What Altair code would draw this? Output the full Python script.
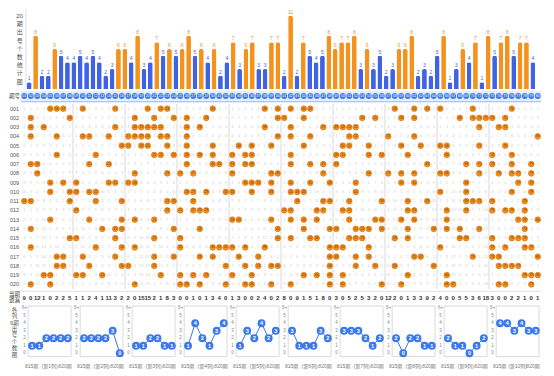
import altair as alt
import pandas as pd

# 20 periods (rows 001-020), 20 numbers drawn out of 01-80 in each
draws = [
    [5, 6, 7, 10, 15, 20, 22, 23, 30, 38, 40, 42, 44, 45, 58, 61, 63, 65, 70, 76],
    [2, 8, 18, 21, 24, 26, 29, 40, 41, 44, 53, 55, 59, 61, 68, 70, 71, 72, 73, 75],
    [2, 4, 15, 18, 19, 20, 21, 22, 26, 28, 38, 42, 47, 49, 50, 51, 52, 71, 74, 75],
    [2, 6, 10, 11, 14, 17, 18, 19, 20, 22, 23, 26, 40, 42, 45, 51, 52, 57, 61, 80],
    [16, 17, 19, 20, 23, 26, 30, 34, 36, 39, 44, 50, 51, 54, 59, 62, 65, 66, 71, 75],
    [6, 12, 21, 22, 24, 26, 28, 30, 33, 35, 36, 42, 49, 50, 54, 56, 60, 66, 73, 76],
    [2, 3, 11, 14, 26, 30, 31, 33, 35, 36, 42, 45, 47, 49, 63, 69, 71, 73, 76, 79],
    [3, 18, 23, 25, 27, 33, 39, 40, 47, 54, 57, 59, 61, 65, 66, 71, 74, 76, 77, 79],
    [5, 7, 9, 14, 15, 17, 18, 35, 36, 37, 39, 42, 45, 48, 52, 59, 61, 69, 77, 79],
    [5, 8, 9, 11, 12, 26, 27, 29, 32, 33, 36, 39, 42, 43, 44, 52, 65, 69, 76, 79],
    [1, 2, 8, 12, 16, 23, 24, 27, 43, 47, 48, 51, 56, 60, 63, 69, 70, 71, 73, 78],
    [9, 23, 25, 27, 28, 29, 41, 42, 46, 47, 50, 51, 60, 61, 66, 69, 73, 75, 76, 78],
    [5, 11, 16, 18, 21, 33, 34, 39, 42, 44, 46, 51, 55, 56, 59, 61, 66, 77, 78, 80],
    [2, 13, 15, 16, 24, 28, 40, 44, 48, 49, 52, 53, 54, 56, 60, 64, 66, 68, 71, 78],
    [8, 9, 15, 21, 25, 40, 42, 45, 46, 51, 52, 53, 58, 60, 68, 69, 73, 76, 77, 78],
    [2, 12, 16, 18, 25, 30, 31, 32, 33, 35, 38, 48, 49, 50, 54, 65, 73, 75, 78, 79],
    [6, 7, 10, 15, 21, 24, 28, 30, 34, 37, 48, 49, 52, 54, 61, 62, 70, 73, 74, 80],
    [6, 7, 11, 16, 17, 21, 32, 35, 37, 39, 40, 48, 52, 55, 58, 64, 74, 75, 76, 77],
    [4, 5, 9, 10, 13, 22, 25, 27, 29, 33, 36, 44, 46, 48, 50, 60, 66, 78, 79, 80],
    [2, 5, 18, 25, 26, 28, 32, 35, 36, 39, 42, 48, 50, 56, 59, 66, 67, 74, 75, 79],
]
row_labels = [f"{i:03d}" for i in range(1, 21)]
numbers = list(range(1, 81))
period_first = "815期"
period_last = "820期"
title_bars = "20\n期\n出\n号\n个\n数\n统\n计\n图"
title_mini = "各\n列\n6期\n出\n号\n个\n数\n图"
head_label = "期号"
omit_label = "当期\n遗漏"

ORANGE = "#f5921e"
BLUE = "#3f63e4"
DOT_BLUE = "#3a78ee"
FONT = "Liberation Sans, Noto Sans CJK SC"

W = 520
xs = alt.Scale(domain=[-0.5, 79.5], nice=False, zero=False)
LABX = -1.5

# ---- derived tables ----
counts = [sum(n in d for d in draws) for n in numbers]
bar_df = pd.DataFrame({
    "col": [n - 1 for n in numbers],
    "cnt": counts,
    "kind": ["hot" if c >= 6 else "cold" for c in counts],
})

cells = []
for n in numbers:
    miss = 0
    for r, d in enumerate(draws, start=1):
        if n in d:
            miss = 0
            cells.append({"col": n - 1, "row": r, "hit": 1, "txt": f"{n:02d}"})
        else:
            miss += 1
            cells.append({"col": n - 1, "row": r, "hit": 0, "txt": str(miss)})
cell_df = pd.DataFrame(cells)

cur_omit = []
for n in numbers:
    last = max([r for r, d in enumerate(draws, start=1) if n in d] or [0])
    cur_omit.append(20 - last)
omit_df = pd.DataFrame({"col": [n - 1 for n in numbers], "v": [str(v) for v in cur_omit]})

mini = []
for g in range(10):
    for i, d in enumerate(draws[14:20]):
        v = sum(1 for n in d if 8 * g < n <= 8 * g + 8)
        mini.append({"g": g, "i": i, "x": 8 * g + 1.2 + 1.1 * i, "v": min(v, 6), "t": str(v)})
mini_df = pd.DataFrame(mini)
box_df = pd.DataFrame({"x": [8 * g + 0.6 for g in range(10)], "x2": [8 * g + 7.2 for g in range(10)],
                       "y": [-0.45] * 10, "y2": [6.3] * 10})
ylab_df = pd.DataFrame([{"x": 8 * g + 0.05, "y": v, "t": ("6+" if v == 6 else str(v))}
                        for g in range(10) for v in range(7)])
plab_df = pd.DataFrame(
    [{"x": 8 * g + 0.1, "t": period_first, "a": "l"} for g in range(10)]
    + [{"x": 8 * g + 3.9, "t": f"(第{g + 1}列)", "a": "c"} for g in range(10)]
    + [{"x": 8 * g + 7.3, "t": period_last, "a": "r"} for g in range(10)]
)
sep_df = pd.DataFrame({"x": [8 * g - 0.5 for g in range(1, 10)]})

# ---- 1. bar chart ----
bys = alt.Scale(domain=[0, 12], nice=False)
bbase = alt.Chart(bar_df).encode(x=alt.X("col:Q", scale=xs, axis=None))
bars = bbase.mark_bar(width=4.8, cornerRadiusTopLeft=2, cornerRadiusTopRight=2).encode(
    y=alt.Y("cnt:Q", scale=bys, axis=None),
    color=alt.Color("kind:N", scale=alt.Scale(domain=["hot", "cold"], range=[ORANGE, BLUE]), legend=None),
)
blabels = bbase.mark_text(dy=-4, fontSize=5, font=FONT).encode(
    y=alt.Y("cnt:Q", scale=bys, axis=None),
    text="cnt:Q",
    color=alt.Color("kind:N", scale=alt.Scale(domain=["hot", "cold"], range=["#d9801c", "#7a8ad0"]), legend=None),
)
btitle = alt.Chart(pd.DataFrame({"x": [LABX], "y": [11.4], "t": [title_bars]})).mark_text(
    lineBreak="\n", fontSize=6, lineHeight=8.2, color="#555", baseline="top", font=FONT
).encode(x=alt.X("x:Q", scale=xs, axis=None), y=alt.Y("y:Q", scale=bys, axis=None), text="t:N")
bsep = alt.Chart(pd.DataFrame({"x": [-0.5]})).mark_rule(color="#ddd", strokeWidth=1).encode(
    x=alt.X("x:Q", scale=xs, axis=None))
chart_bars = alt.layer(bsep, bars, blabels, btitle).properties(width=W, height=80)

# ---- 2. header row ----
hys = alt.Scale(domain=[0, 1], nice=False)
head_df = pd.DataFrame({"col": [n - 1 for n in numbers], "y": [0.5] * 80, "t": [f"{n:02d}" for n in numbers]})
hbg = alt.Chart(pd.DataFrame({"x": [-0.5], "x2": [79.5], "y": [0.06], "y2": [0.94]})).mark_rect(
    color="#e6eefc").encode(x=alt.X("x:Q", scale=xs, axis=None), x2="x2", y=alt.Y("y:Q", scale=hys, axis=None), y2="y2")
hdots = alt.Chart(head_df).mark_circle(size=34, opacity=1, color=DOT_BLUE).encode(
    x=alt.X("col:Q", scale=xs, axis=None), y=alt.Y("y:Q", scale=hys, axis=None))
htext = alt.Chart(head_df).mark_text(fontSize=3.6, color="white", font=FONT).encode(
    x=alt.X("col:Q", scale=xs, axis=None), y=alt.Y("y:Q", scale=hys, axis=None), text="t:N")
hlab = alt.Chart(pd.DataFrame({"x": [LABX], "y": [0.5], "t": [head_label]})).mark_text(
    fontSize=5.5, color="#444", font=FONT).encode(
    x=alt.X("x:Q", scale=xs, axis=None), y=alt.Y("y:Q", scale=hys, axis=None), text="t:N")
hline = alt.Chart(pd.DataFrame({"y": [0.02]})).mark_rule(color="#9bb5ee").encode(
    y=alt.Y("y:Q", scale=hys, axis=None))
chart_head = alt.layer(hbg, hline, hdots, htext, hlab).properties(width=W, height=12)

# ---- 3. matrix ----
mys = alt.Scale(domain=[0.5, 20.5], reverse=True, nice=False, zero=False)
mx = alt.X("col:Q", scale=xs, axis=None)
my = alt.Y("row:Q", scale=mys, axis=None)
msep = alt.Chart(sep_df).mark_rule(color="#d8d8d8").encode(x=alt.X("x:Q", scale=xs, axis=None))
mgray = alt.Chart(cell_df).transform_filter("datum.hit == 0").mark_text(
    fontSize=4, color="#cfcfcf", font=FONT).encode(x=mx, y=my, text="txt:N")
mdots = alt.Chart(cell_df).transform_filter("datum.hit == 1").mark_circle(
    size=32, opacity=1, color=ORANGE, stroke="#d66f0a", strokeWidth=0.6).encode(x=mx, y=my)
mdtext = alt.Chart(cell_df).transform_filter("datum.hit == 1").mark_text(
    fontSize=3.3, color="#7a3500", font=FONT).encode(x=mx, y=my, text="txt:N")
rl_df = pd.DataFrame({"x": [LABX] * 20, "row": list(range(1, 21)), "t": row_labels})
mlab = alt.Chart(rl_df).mark_text(fontSize=5.5, color="#555", font=FONT).encode(
    x=alt.X("x:Q", scale=xs, axis=None), y=my, text="t:N")
chart_matrix = alt.layer(msep, mgray, mdots, mdtext, mlab).properties(width=W, height=185)

# ---- 4. current omission row ----
oys = alt.Scale(domain=[0, 1], nice=False)
otext = alt.Chart(omit_df.assign(y=0.5)).mark_text(fontSize=6, color="#333", fontWeight="bold", font=FONT).encode(
    x=alt.X("col:Q", scale=xs, axis=None), y=alt.Y("y:Q", scale=oys, axis=None), text="v:N")
olab = alt.Chart(pd.DataFrame({"x": [LABX], "y": [0.95], "t": [omit_label]})).mark_text(
    fontSize=5.5, lineBreak="\n", lineHeight=6.3, baseline="top", color="#444", font=FONT).encode(
    x=alt.X("x:Q", scale=xs, axis=None), y=alt.Y("y:Q", scale=oys, axis=None), text="t:N")
otop = alt.Chart(pd.DataFrame({"y": [0.98]})).mark_rule(color="#ddd").encode(y=alt.Y("y:Q", scale=oys, axis=None))
chart_omit = alt.layer(otop, otext, olab).properties(width=W, height=14)

# ---- 5. mini panels ----
nys = alt.Scale(domain=[-0.45, 6.3], nice=False, zero=False)
nbox = alt.Chart(box_df).mark_rect(fill="white", stroke="#cfcfcf", strokeWidth=0.8).encode(
    x=alt.X("x:Q", scale=xs, axis=None), x2="x2", y=alt.Y("y:Q", scale=nys, axis=None), y2="y2")
nylab = alt.Chart(ylab_df).mark_text(fontSize=4.5, color="#888", font=FONT).encode(
    x=alt.X("x:Q", scale=xs, axis=None), y=alt.Y("y:Q", scale=nys, axis=None), text="t:N")
nline = alt.Chart(mini_df).mark_line(color=DOT_BLUE, strokeWidth=1).encode(
    x=alt.X("x:Q", scale=xs, axis=None), y=alt.Y("v:Q", scale=nys, axis=None), detail="g:N", order="i:Q")
ndots = alt.Chart(mini_df).mark_circle(size=62, opacity=1, color=DOT_BLUE).encode(
    x=alt.X("x:Q", scale=xs, axis=None), y=alt.Y("v:Q", scale=nys, axis=None))
ntext = alt.Chart(mini_df).mark_text(fontSize=5.5, color="white", fontWeight="bold", font=FONT).encode(
    x=alt.X("x:Q", scale=xs, axis=None), y=alt.Y("v:Q", scale=nys, axis=None), text="t:N")
plab_base = alt.Chart(plab_df.assign(y=-1.75))
plabs = alt.layer(*[
    plab_base.transform_filter(f"datum.a == '{a}'").mark_text(fontSize=5, color="#777", align=al, font=FONT).encode(
        x=alt.X("x:Q", scale=xs, axis=None), y=alt.Y("y:Q", scale=nys, axis=None), text="t:N")
    for a, al in [("l", "left"), ("c", "center"), ("r", "right")]
])
nlab = alt.Chart(pd.DataFrame({"x": [LABX], "y": [6.05], "t": [title_mini]})).mark_text(
    lineBreak="\n", fontSize=5.5, lineHeight=6.4, baseline="top", color="#555", font=FONT).encode(
    x=alt.X("x:Q", scale=xs, axis=None), y=alt.Y("y:Q", scale=nys, axis=None), text="t:N")
chart_mini = alt.layer(nbox, nylab, nline, ndots, ntext, plabs, nlab).properties(width=W, height=50.6)

chart = alt.vconcat(chart_bars, chart_head, chart_matrix, chart_omit, chart_mini, spacing=0).properties(
    padding={"left": 0, "top": 0, "right": 0, "bottom": 0}, background="white"
).configure_view(stroke=None)

chart.save("out.html", embed_options={"renderer": "svg", "actions": False})
